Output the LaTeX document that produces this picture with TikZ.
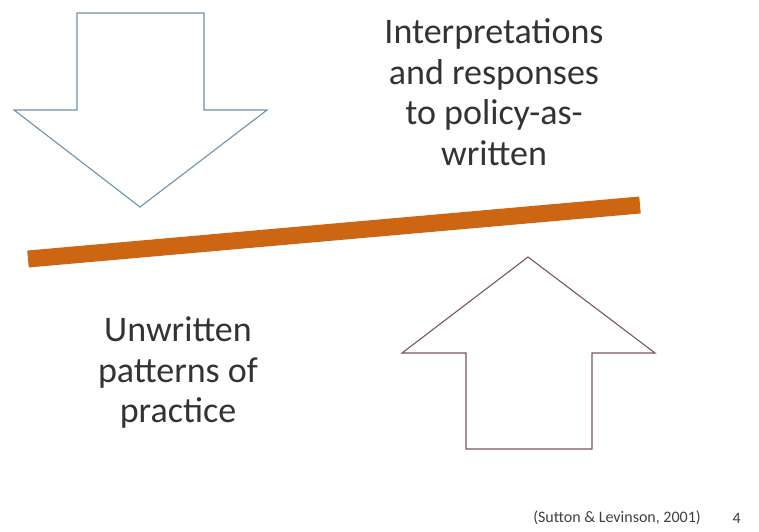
\documentclass[tikz,border=0pt]{standalone}
\usepackage{fontspec}
\setmainfont{Carlito}
\usetikzlibrary{positioning}
\definecolor{barorange}{RGB}{204,102,18}
\definecolor{downblue}{RGB}{110,145,170}
\definecolor{upmauve}{RGB}{120,85,95}
\tikzstyle{label} = [align=center, font=\fontsize{36}{40.5}\selectfont, text=black!80, inner sep=0pt]
\tikzstyle{cite} = [font=\fontsize{16}{16}\selectfont, text=black!75, inner sep=0pt]
\tikzstyle{outline} = [line width=1.1pt, line join=miter, fill=white]

\begin{document}
\begin{tikzpicture}[x=1pt,y=-1pt]
				\useasboundingbox (0,0) rectangle (759,531);

				% arrow coming down from the policy
				\draw[outline, draw=downblue] (77,13) -- (204,13) -- (204,110) -- (267,110)
					-- (140,207) -- (14,110) -- (77,110) -- cycle;

				% arrow coming up from practice
				\draw[outline, draw=upmauve] (466,449) -- (592,449) -- (592,353) -- (655,353)
					-- (528,257) -- (402,353) -- (466,353) -- cycle;

				% the tilted bar
				\coordinate (b0) at (28,259) ;
				\coordinate (b1) at (640,205) ;
				\draw[barorange, line width=17pt] (b0) -- (b1);

				\node[label] (interp) at (494,92) {Interpretations\\and responses\\to policy-as-\\written};
				\node[label] (unwrit) at (178,373) {Unwritten\\patterns of\\practice};

				\node[cite, anchor=east] (src) at (701,518) {(Sutton \& Levinson, 2001)};
				\node[cite, right=40pt of src.east, anchor=east] (pg) {4};
\end{tikzpicture}
\end{document}
